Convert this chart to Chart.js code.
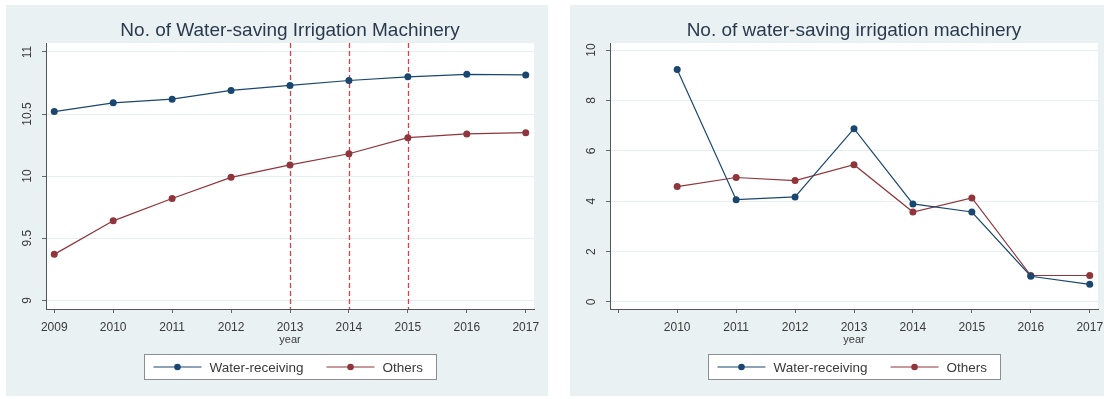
<!DOCTYPE html>
<html>
<head>
<meta charset="utf-8">
<script src="https://cdn.jsdelivr.net/npm/chart.js@4.4.0/dist/chart.umd.min.js"></script>
<style>
  html, body { margin: 0; padding: 0; background: #fff; width: 1104px; height: 399px; overflow: hidden; }
  body { position: relative; }
  .panel { position: absolute; top: 5px; width: 542px; height: 391px; background: #eaf1f3; }
  #left-panel { left: 6px; }
  #right-panel { left: 570px; }
  canvas { display: block; }
</style>
</head>
<body>
<div class="panel" id="left-panel"><canvas id="leftChart" width="542" height="391"></canvas></div>
<div class="panel" id="right-panel"><canvas id="rightChart" width="542" height="391"></canvas></div>
<script>
// left panel: log of machinery counts, 2009-2017
const leftYears = [2009, 2010, 2011, 2012, 2013, 2014, 2015, 2016, 2017];
const leftWaterReceiving = [10.52, 10.59, 10.62, 10.69, 10.73, 10.77, 10.80, 10.82, 10.815];
const leftOthers = [9.37, 9.64, 9.82, 9.99, 10.09, 10.18, 10.31, 10.34, 10.35];
const leftYTicks = [9, 9.5, 10, 10.5, 11];
const leftXTicks = [2009, 2010, 2011, 2012, 2013, 2014, 2015, 2016, 2017];
const leftXTickLabels = ['2009', '2010', '2011', '2012', '2013', '2014', '2015', '2016', '2017'];
const policyYears = [2013, 2014, 2015];

// right panel: growth numbers, 2010-2017
const rightYears = [2010, 2011, 2012, 2013, 2014, 2015, 2016, 2017];
const rightWaterReceiving = [9.23, 4.06, 4.17, 6.88, 3.89, 3.57, 1.02, 0.70];
const rightOthers = [4.58, 4.94, 4.82, 5.45, 3.57, 4.13, 1.05, 1.05];
const rightYTicks = [0, 2, 4, 6, 8, 10];
const rightXTicks = [2009, 2010, 2011, 2012, 2013, 2014, 2015, 2016, 2017];
const rightXTickLabels = ['', '2010', '2011', '2012', '2013', '2014', '2015', '2016', '2017'];

const FONT = '"Liberation Sans", Arial, sans-serif';
const NAVY = '#1a476f';
const MAROON = '#90353b';
const TEXT = '#3a3a3a';

function toPoints(xs, ys) {
  return xs.map((x, i) => ({ x, y: ys[i] }));
}

const stataDecor = {
  id: 'stataDecor',
  beforeDraw(chart) {
    const { ctx, chartArea: a } = chart;
    ctx.save();
    ctx.fillStyle = '#ffffff';
    ctx.fillRect(a.left, a.top, a.right - a.left, a.bottom - a.top);
    ctx.restore();
  },
  beforeDatasetsDraw(chart, args, opts) {
    if (!opts.vlines || !opts.vlines.length) return;
    const { ctx, chartArea: a } = chart;
    const xs = chart.scales.x;
    ctx.save();
    ctx.strokeStyle = '#d8404c';
    ctx.lineWidth = 1.3;
    ctx.setLineDash([5, 3]);
    opts.vlines.forEach((v) => {
      const px = Math.round(xs.getPixelForValue(v)) + 0.5;
      ctx.beginPath();
      ctx.moveTo(px, a.top);
      ctx.lineTo(px, a.bottom);
      ctx.stroke();
    });
    ctx.restore();
  },
  afterDraw(chart, args, opts) {
    const { ctx, chartArea: a } = chart;
    const ys = chart.scales.y;
    const cx = (a.left + a.right) / 2;
    ctx.save();

    // title
    ctx.fillStyle = '#2a3a4e';
    ctx.font = `19px ${FONT}`;
    ctx.textAlign = 'center';
    ctx.textBaseline = 'middle';
    ctx.fillText(opts.title, cx, 26);

    // rotated y tick labels
    ctx.fillStyle = TEXT;
    ctx.font = `12px ${FONT}`;
    opts.yTicks.forEach((v) => {
      const py = ys.getPixelForValue(v);
      ctx.save();
      ctx.translate(a.left - 18, py);
      ctx.rotate(-Math.PI / 2);
      ctx.fillText(String(v), 0, 0);
      ctx.restore();
    });

    // x axis title
    ctx.font = `11px ${FONT}`;
    ctx.fillText('year', cx, a.bottom + 31);

    // legend box
    const lw = 292;
    const lh = 25;
    const lx = Math.round(cx - lw / 2) + 0.5;
    const ly = Math.round(a.bottom + 45) + 0.5;
    ctx.fillStyle = '#ffffff';
    ctx.fillRect(lx, ly, lw, lh);
    ctx.strokeStyle = '#8a8f94';
    ctx.lineWidth = 1;
    ctx.strokeRect(lx, ly, lw, lh);

    ctx.font = `13.5px ${FONT}`;
    ctx.textAlign = 'left';
    const my = ly + lh / 2;
    let x = lx + 9;
    chart.data.datasets.forEach((ds) => {
      ctx.strokeStyle = ds.borderColor;
      ctx.lineWidth = 1.2;
      ctx.beginPath();
      ctx.moveTo(x, my);
      ctx.lineTo(x + 48, my);
      ctx.stroke();
      ctx.fillStyle = ds.borderColor;
      ctx.beginPath();
      ctx.arc(x + 24, my, 3.3, 0, Math.PI * 2);
      ctx.fill();
      x += 56;
      ctx.fillStyle = TEXT;
      ctx.fillText(ds.label, x, my + 1);
      x += ctx.measureText(ds.label).width + 23;
    });

    ctx.restore();
  },
};

function makeChart(canvas, cfg) {
  return new Chart(canvas.getContext('2d'), {
    type: 'line',
    data: {
      datasets: [
        {
          label: 'Water-receiving',
          data: toPoints(cfg.years, cfg.water),
          borderColor: NAVY,
          backgroundColor: NAVY,
          borderWidth: 1.2,
          pointRadius: 3.5,
          pointBorderWidth: 0,
          pointBackgroundColor: NAVY,
          tension: 0,
          clip: false,
        },
        {
          label: 'Others',
          data: toPoints(cfg.years, cfg.others),
          borderColor: MAROON,
          backgroundColor: MAROON,
          borderWidth: 1.2,
          pointRadius: 3.5,
          pointBorderWidth: 0,
          pointBackgroundColor: MAROON,
          tension: 0,
          clip: false,
        },
      ],
    },
    options: {
      responsive: false,
      animation: false,
      events: [],
      layout: { padding: { top: 38, right: 14, bottom: 57, left: 0 } },
      scales: {
        x: {
          type: 'linear',
          min: 2008.86,
          max: 2017.14,
          afterBuildTicks: (s) => { s.ticks = cfg.xTicks.map((v) => ({ value: v })); },
          afterFit: (s) => { s.height = 30; s.paddingLeft = 0; s.paddingRight = 0; },
          ticks: {
            color: TEXT,
            font: { family: FONT, size: 12 },
            padding: 7,
            maxRotation: 0,
            autoSkip: false,
            callback: (value, i) => cfg.xTickLabels[i],
          },
          grid: { display: true, drawOnChartArea: false, drawTicks: true, tickLength: 4, tickColor: '#666' },
          border: { display: true, color: '#555', width: 1 },
        },
        y: {
          type: 'linear',
          min: cfg.yMin,
          max: cfg.yMax,
          afterBuildTicks: (s) => { s.ticks = cfg.yTicks.map((v) => ({ value: v })); },
          afterFit: (s) => { s.width = 40; s.paddingTop = 0; s.paddingBottom = 0; },
          ticks: { display: false },
          grid: { color: '#e6eef1', lineWidth: 1, drawTicks: true, tickLength: 4, tickColor: '#666' },
          border: { display: true, color: '#555', width: 1 },
        },
      },
      plugins: {
        legend: { display: false },
        title: { display: false },
        tooltip: { enabled: false },
        stataDecor: { title: cfg.title, vlines: cfg.vlines, yTicks: cfg.yTicks },
      },
    },
    plugins: [stataDecor],
  });
}

makeChart(document.getElementById('leftChart'), {
  title: 'No. of Water-saving Irrigation Machinery',
  years: leftYears,
  water: leftWaterReceiving,
  others: leftOthers,
  yMin: 8.93,
  yMax: 11.072,
  yTicks: leftYTicks,
  xTicks: leftXTicks,
  xTickLabels: leftXTickLabels,
  vlines: policyYears,
});

makeChart(document.getElementById('rightChart'), {
  title: 'No. of water-saving irrigation machinery',
  years: rightYears,
  water: rightWaterReceiving,
  others: rightOthers,
  yMin: -0.28,
  yMax: 10.28,
  yTicks: rightYTicks,
  xTicks: rightXTicks,
  xTickLabels: rightXTickLabels,
  vlines: [],
});
</script>
</body>
</html>
